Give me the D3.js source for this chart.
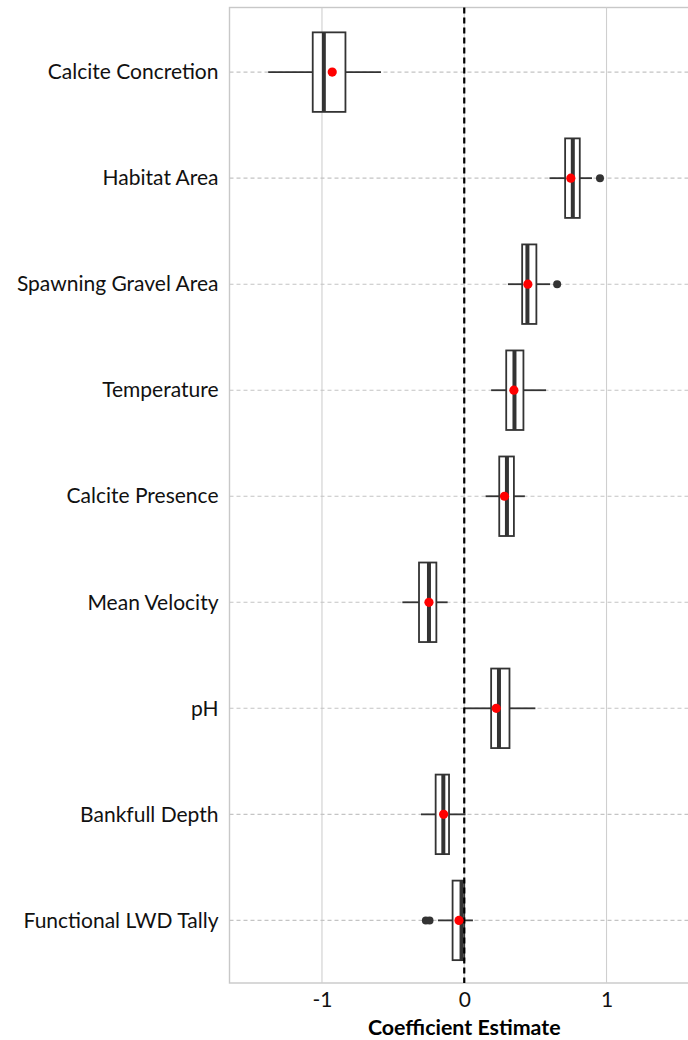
<!DOCTYPE html>
<html>
<head>
<meta charset="utf-8">
<script src="https://cdn.jsdelivr.net/npm/d3@7"></script>
<style>
  html, body { margin: 0; padding: 0; background: #fff; }
  svg { display: block; }
</style>
</head>
<body>
<svg id="chart" width="688" height="1040"></svg>
<script>
// ---- data ----
const categories = ["Calcite Concretion", "Habitat Area", "Spawning Gravel Area", "Temperature",
  "Calcite Presence", "Mean Velocity", "pH", "Bankfull Depth", "Functional LWD Tally"];
const whiskerLow  = [-1.378, 0.599, 0.307, 0.189, 0.150, -0.435, 0.000, -0.304, -0.185];
const q1          = [-1.065, 0.709, 0.407, 0.295, 0.246, -0.318, 0.189, -0.201, -0.082];
const medians     = [-0.987, 0.763, 0.444, 0.353, 0.300, -0.248, 0.244, -0.147, -0.019];
const q3          = [-0.835, 0.812, 0.507, 0.416, 0.349, -0.196, 0.318, -0.107, 0.000];
const whiskerHigh = [-0.585, 0.898, 0.604, 0.575, 0.426, -0.117, 0.500, 0.009, 0.061];
const means       = [-0.928, 0.749, 0.447, 0.349, 0.283, -0.248, 0.225, -0.145, -0.037];
const outliers    = [[], [0.954], [0.653], [], [], [], [], [], [-0.270, -0.244]];
const xTicks = [-1, 0, 1];
const xTickLabels = ["-1", "0", "1"];
const xTitle = "Coefficient Estimate";

// ---- layout ----
const svg = d3.select("#chart");
const panel = { left: 229.5, right: 699, top: 7.5, bottom: 983 };
const x = d3.scaleLinear().domain([-1.65, 1.65]).range([panel.left, panel.right]);
const y = d3.scalePoint().domain(categories).range([panel.top + 1, panel.bottom + 1]).padding(0.6);
const step = y.step();
const boxH = step * 0.75;
const font = "Lato, 'Open Sans', sans-serif";

const data = categories.map((c, i) => ({
  cat: c, lo: whiskerLow[i], q1: q1[i], med: medians[i], q3: q3[i], hi: whiskerHigh[i],
  mean: means[i], out: outliers[i]
}));

// panel border
svg.append("rect")
  .attr("x", panel.left).attr("y", panel.top)
  .attr("width", panel.right - panel.left).attr("height", panel.bottom - panel.top)
  .attr("fill", "none").attr("stroke", "#c8c8c8").attr("stroke-width", 1.4);

// vertical grid lines
svg.append("g").selectAll("line").data(xTicks).join("line")
  .attr("x1", d => x(d)).attr("x2", d => x(d))
  .attr("y1", panel.top).attr("y2", panel.bottom)
  .attr("stroke", "#cfcfcf").attr("stroke-width", 1.1);

// horizontal dashed grid lines
svg.append("g").selectAll("line").data(categories).join("line")
  .attr("x1", panel.left).attr("x2", panel.right)
  .attr("y1", d => y(d)).attr("y2", d => y(d))
  .attr("stroke", "#c4c4c4").attr("stroke-width", 1.1)
  .attr("stroke-dasharray", "4,3");

// boxplots
const g = svg.append("g");
const bx = g.selectAll("g.box").data(data).join("g").attr("class", "box");
const dark = "#333333";
const lw = 1.8;
bx.append("line")
  .attr("x1", d => x(d.lo)).attr("x2", d => x(d.q1))
  .attr("y1", d => y(d.cat)).attr("y2", d => y(d.cat))
  .attr("stroke", dark).attr("stroke-width", lw);
bx.append("line")
  .attr("x1", d => x(d.q3)).attr("x2", d => x(d.hi))
  .attr("y1", d => y(d.cat)).attr("y2", d => y(d.cat))
  .attr("stroke", dark).attr("stroke-width", lw);
bx.append("rect")
  .attr("x", d => x(d.q1)).attr("width", d => x(d.q3) - x(d.q1))
  .attr("y", d => y(d.cat) - boxH / 2).attr("height", boxH)
  .attr("fill", "#fff").attr("stroke", dark).attr("stroke-width", lw);
bx.append("line")
  .attr("x1", d => x(d.med)).attr("x2", d => x(d.med))
  .attr("y1", d => y(d.cat) - boxH / 2).attr("y2", d => y(d.cat) + boxH / 2)
  .attr("stroke", dark).attr("stroke-width", 4);
bx.selectAll("circle.out").data(d => d.out.map(v => ({ v, cat: d.cat }))).join("circle")
  .attr("class", "out")
  .attr("cx", d => x(d.v)).attr("cy", d => y(d.cat)).attr("r", 4)
  .attr("fill", dark);

// zero reference line
svg.append("line")
  .attr("x1", x(0)).attr("x2", x(0))
  .attr("y1", panel.top).attr("y2", panel.bottom)
  .attr("stroke", "#000").attr("stroke-width", 2.2)
  .attr("stroke-dasharray", "6,4");

// mean points
svg.append("g").selectAll("circle").data(data).join("circle")
  .attr("cx", d => x(d.mean)).attr("cy", d => y(d.cat)).attr("r", 4.6)
  .attr("fill", "#ff0000");

// y axis labels
const yAxis = d3.axisLeft(y).tickSize(0).tickPadding(11);
const ya = svg.append("g").attr("transform", `translate(${panel.left},0)`).call(yAxis);
ya.select(".domain").remove();
ya.selectAll("text").attr("font-family", font).attr("font-size", 21).attr("fill", "#111");

// x axis labels
const xAxis = d3.axisBottom(x).tickValues(xTicks).tickFormat((d, i) => xTickLabels[i]).tickSize(0).tickPadding(9);
const xa = svg.append("g").attr("transform", `translate(0,${panel.bottom})`).call(xAxis);
xa.select(".domain").remove();
xa.selectAll("text").attr("font-family", font).attr("font-size", 21).attr("fill", "#111");

// x title
svg.append("text")
  .attr("x", (panel.left + panel.right) / 2).attr("y", 1035)
  .attr("text-anchor", "middle")
  .attr("font-family", font).attr("font-size", 21.4).attr("font-weight", "bold")
  .attr("fill", "#000").text(xTitle);
</script>
</body>
</html>
